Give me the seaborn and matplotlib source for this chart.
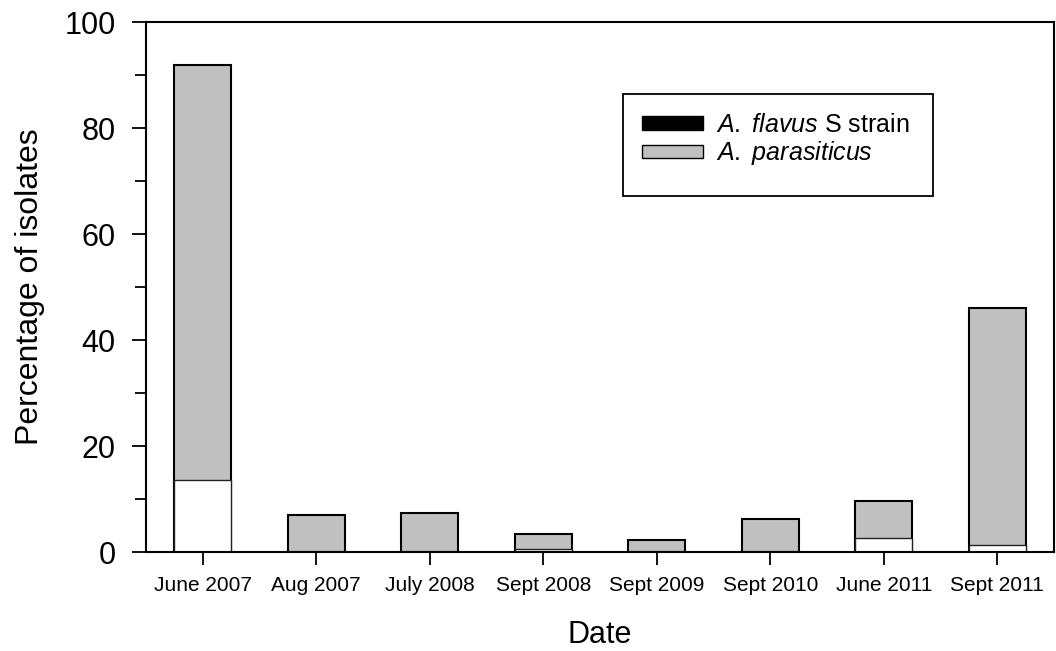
import pandas as pd
import seaborn as sns
import matplotlib.pyplot as plt
from matplotlib.patches import Patch, Rectangle
from matplotlib.ticker import MultipleLocator

# values
dates = ['June 2007', 'Aug 2007', 'July 2008', 'Sept 2008',
         'Sept 2009', 'Sept 2010', 'June 2011', 'Sept 2011']
flavus_s = [13.6, 0, 0, 0.5, 0, 0, 2.6, 1.3]
parasiticus = [78.3, 7.0, 7.3, 2.9, 2.3, 6.2, 7.0, 44.7]

df = pd.DataFrame({'Date': dates, 'S': flavus_s, 'P': parasiticus})
df['Total'] = df['S'] + df['P']

sns.set_style('ticks')
plt.rcParams['font.family'] = ['Liberation Sans', 'DejaVu Sans']
plt.rcParams['text.color'] = 'black'
plt.rcParams['axes.labelcolor'] = 'black'
plt.rcParams['xtick.color'] = 'black'
plt.rcParams['ytick.color'] = 'black'
plt.rcParams['mathtext.fontset'] = 'custom'
plt.rcParams['mathtext.it'] = 'Liberation Sans:italic'
plt.rcParams['mathtext.rm'] = 'Liberation Sans'

fig = plt.figure(figsize=(10.56, 6.51), dpi=100)
ax = fig.add_axes([146 / 1056, 1 - 552 / 651, (1054 - 146) / 1056, (552 - 22) / 651])

# stacked: total in grey, S strain part drawn over it at the bottom
sns.barplot(data=df, x='Date', y='Total', color='#c0c0c0', width=0.5,
            edgecolor='black', linewidth=1.5, saturation=1, ax=ax)
sns.barplot(data=df[df['S'] > 0], x='Date', y='S', order=dates, color='white', width=0.5,
            edgecolor='#222222', linewidth=1.0, saturation=1, ax=ax)

ax.set_xlim(-0.5, 7.5)
ax.set_ylim(0, 100)
ax.yaxis.set_major_locator(MultipleLocator(20))
ax.yaxis.set_minor_locator(MultipleLocator(10))
ax.tick_params(axis='y', which='major', length=10, width=1.3, labelsize=22, pad=12)
ax.tick_params(axis='y', which='minor', length=8, width=1.3)
ax.tick_params(axis='x', length=9, width=1.3, labelsize=15, pad=8)
for s in ax.spines.values():
    s.set_linewidth(1.5)
    s.set_color('black')

ax.set_xlabel('Date', fontsize=22, labelpad=18)
ax.set_ylabel('Percentage of isolates', fontsize=23, labelpad=14)

# legend box drawn separately (more room below the entries than above)
bx0, bx1 = (623 - 146) / 908, (933 - 146) / 908
by0, by1 = (552 - 196) / 530, (552 - 94) / 530
ax.add_patch(Rectangle((bx0, by0), bx1 - bx0, by1 - by0, transform=ax.transAxes,
                       facecolor='white', edgecolor='black', linewidth=1.3, zorder=4))

handles = [Patch(facecolor='black', edgecolor='black', label=r'$\mathit{A.}$ $\mathit{flavus}$ S strain'),
           Patch(facecolor='#c0c0c0', edgecolor='black', label=r'$\mathit{A.}$ $\mathit{parasiticus}$')]
leg = ax.legend(handles=handles, loc='upper left', bbox_to_anchor=(bx0, by1),
                fontsize=18, frameon=False, borderpad=0.75,
                handlelength=2.45, handleheight=0.45, handletextpad=0.5,
                labelspacing=0.1, borderaxespad=0)
leg.set_zorder(5)

fig.savefig('out.png', dpi=100)
